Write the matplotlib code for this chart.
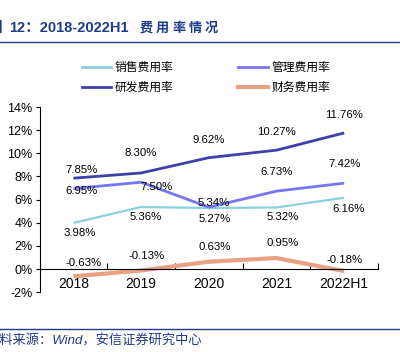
import matplotlib
matplotlib.use("Agg")
import matplotlib.pyplot as plt
from matplotlib.lines import Line2D

plt.rcParams['font.family'] = ['Liberation Sans', 'Noto Sans CJK SC', 'DejaVu Sans']

years = ['2018', '2019', '2020', '2021', '2022H1']
xiaoshou = [3.98, 5.36, 5.27, 5.32, 6.16]   # 销售费用率
guanli = [6.95, 7.50, 5.34, 6.73, 7.42]     # 管理费用率
yanfa = [7.85, 8.30, 9.62, 10.27, 11.76]    # 研发费用率
caiwu = [-0.63, -0.13, 0.63, 0.95, -0.18]   # 财务费用率
names = ['销售费用率', '管理费用率', '研发费用率', '财务费用率']
yticks = [-2, 0, 2, 4, 6, 8, 10, 12, 14]

c_xs = '#8DD0DD'
c_gl = '#7676F4'
c_yf = '#4040AA'
c_cw = '#E9A184'
navy = '#1F3C88'

fig = plt.figure(figsize=(4, 3.52), dpi=100)
ax = fig.add_axes([0.099, 0.17, 0.846, 0.526])

x = range(len(years))
ax.plot(x, xiaoshou, color=c_xs, lw=1.6, solid_capstyle='butt')
ax.plot(x, guanli, color=c_gl, lw=2, solid_capstyle='butt')
ax.plot(x, yanfa, color=c_yf, lw=2, solid_capstyle='butt')
ax.plot(x, caiwu, color=c_cw, lw=3, solid_capstyle='butt')

# label offsets in pixels (dx, dy)
px = 0.72
offs = [
    (xiaoshou, [(6, -10), (5, -10), (6, -11), (6, -10), (4, -11)]),
    (guanli, [(8, -2), (15, -5), (5, 4), (0, 19), (0, 19)]),
    (yanfa, [(8, 8), (0, 20), (0, 18), (0, 18), (0, 18)]),
    (caiwu, [(10, 13), (5, 15), (6, 15), (6, 15), (0, 11)]),
]
for vals, oo in offs:
    for i, v in enumerate(vals):
        ax.annotate('%.2f%%' % v, (i, v), xytext=(oo[i][0] * px, oo[i][1] * px),
                    textcoords='offset points', ha='center', va='center',
                    fontsize=8.2, color='black')

ax.set_xlim(-0.5, 4.5)
ax.set_ylim(-2, 14)
ax.set_yticks(yticks)
ax.set_yticklabels(['%d%%' % t for t in yticks], fontsize=9)
ax.set_xticks(list(x))
ax.set_xticklabels(years, fontsize=9)
ax.set_xticks([0.5, 1.5, 2.5, 3.5, 4.5], minor=True)
ax.tick_params(axis='x', which='major', length=0, pad=6)
ax.tick_params(axis='x', which='minor', direction='in', length=4, width=0.8)
ax.tick_params(axis='y', length=3, width=0.8, pad=2)
ax.spines['top'].set_visible(False)
ax.spines['right'].set_visible(False)
ax.spines['bottom'].set_position(('data', 0))
ax.spines['bottom'].set_linewidth(0.8)
ax.spines['left'].set_linewidth(0.8)

# legend fills column by column, so order it to get 销售/管理 on the first row
handles = [Line2D([], [], color=c_xs, lw=2), Line2D([], [], color=c_yf, lw=2),
           Line2D([], [], color=c_gl, lw=2), Line2D([], [], color=c_cw, lw=3)]
labels = [names[0], names[2], names[1], names[3]]
fig.legend(handles, labels, ncol=2, loc='center', bbox_to_anchor=(0.515, 0.78),
           frameon=False, handlelength=2.5, handletextpad=0.3,
           columnspacing=5.5, labelspacing=0.55,
           prop={'family': ['Noto Sans CJK SC'], 'size': 8.5})

# title and source
ty = 1 - 28 / 352
fig.text(3 / 400, ty, '图', ha='right', va='center', fontsize=10.5,
         fontweight='bold', color=navy)
fig.text(9 / 400, ty, '12：2018-2022H1', ha='left', va='center',
         fontsize=10.5, fontweight='bold', color=navy)
# the chinese part of the title is letter-spaced
for i, ch in enumerate('费用率情况'):
    fig.text((140 + 16.2 * i) / 400, ty, ch, ha='left', va='center',
             fontsize=9.5, fontweight='bold', color=navy,
             family=['Noto Sans CJK SC'])
fig.add_artist(Line2D([0, 1], [1 - 41.7 / 352, 1 - 41.7 / 352], color=navy, lw=1))
fig.add_artist(Line2D([0, 1], [1 - 329 / 352, 1 - 329 / 352], color=navy, lw=1))
fig.text(-14 / 400, 1 - 341 / 352, '资料来源：Wind，安信证券研究中心', ha='left', va='center',
         fontsize=9.5, style='italic', color=navy)

fig.savefig('out.png', dpi=100)
